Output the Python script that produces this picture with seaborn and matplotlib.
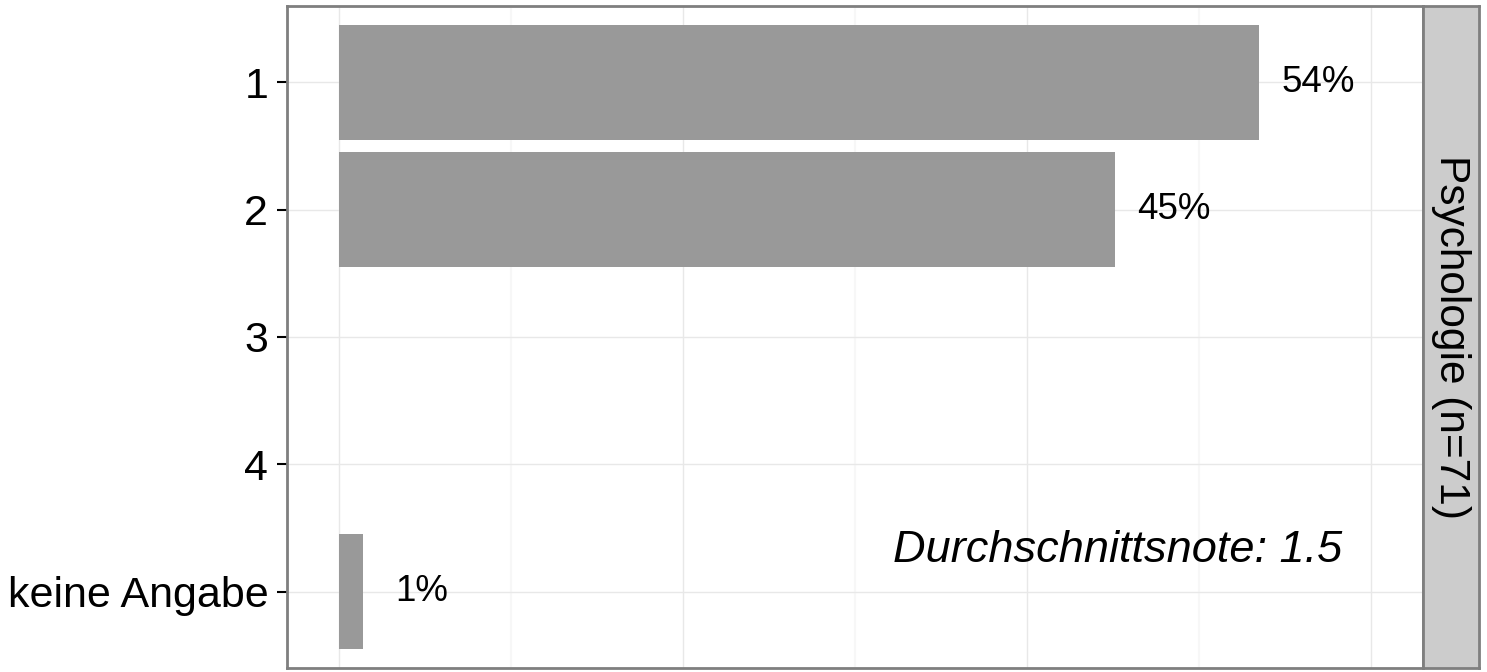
import pandas as pd
import numpy as np
import matplotlib
matplotlib.use("Agg")
import matplotlib.pyplot as plt
import seaborn as sns

# Daten
noten = ["1", "2", "3", "4", "keine Angabe"]
anteile = [53.5, 45.1, 0.0, 0.0, 1.4]
labels = ["54%", "45%", "", "", "1%"]
facette = "Psychologie (n=71)"
durchschnitt = "Durchschnittsnote: 1.5"

df = pd.DataFrame({"Note": noten, "Anteil": anteile})

sns.set_style("white")
plt.rcParams["font.family"] = ["Liberation Sans", "DejaVu Sans"]

fig = plt.figure(figsize=(14.87, 6.72), dpi=100)
ax = fig.add_axes([287 / 1487, 4 / 672, (1423 - 287) / 1487, (666 - 4) / 672])

# Gitterlinien wie theme_bw
for x in [10, 30, 50]:
    ax.axvline(x, color="#F7F7F7", lw=1.5, zorder=0)
for x in [0, 20, 40, 60]:
    ax.axvline(x, color="#E8E8E8", lw=1.0, zorder=0)
for y in range(len(noten)):
    ax.axhline(y, color="#E8E8E8", lw=1.0, zorder=0)

sns.barplot(data=df, x="Anteil", y="Note", order=noten, orient="h",
            color="#999999", saturation=1, width=0.9, linewidth=0,
            edgecolor="none", ax=ax, zorder=2)

for i, (v, lab) in enumerate(zip(anteile, labels)):
    if lab:
        ax.text(v + 3.4, i, lab, ha="center", va="center", fontsize=26.5, color="black")

ax.text(58.3, 3.68, durchschnitt, ha="right", va="center", fontsize=32.5,
        style="italic", color="black")

ax.set_xlim(-3, 63)
ax.set_ylim(4.6, -0.6)
ax.set_xlabel("")
ax.set_ylabel("")
ax.set_xticks([])
ax.tick_params(axis="y", length=7.5, width=1.5, color="black", labelsize=31,
               labelcolor="black", pad=6, left=True)
for lbl in ax.get_yticklabels():
    lbl.set_verticalalignment("center_baseline")
for s in ax.spines.values():
    s.set_color("#7F7F7F")
    s.set_linewidth(2)

# Facetten-Streifen rechts
sax = fig.add_axes([1423 / 1487, 4 / 672, (1479 - 1423) / 1487, (666 - 4) / 672])
sax.set_facecolor("#CCCCCC")
sax.set_xticks([])
sax.set_yticks([])
for s in sax.spines.values():
    s.set_color("#7F7F7F")
    s.set_linewidth(2)
sax.text(0.5, 0.5, facette, rotation=-90, ha="center", va="center",
         fontsize=30.5, color="black", transform=sax.transAxes)

fig.savefig("out.png", dpi=100)
